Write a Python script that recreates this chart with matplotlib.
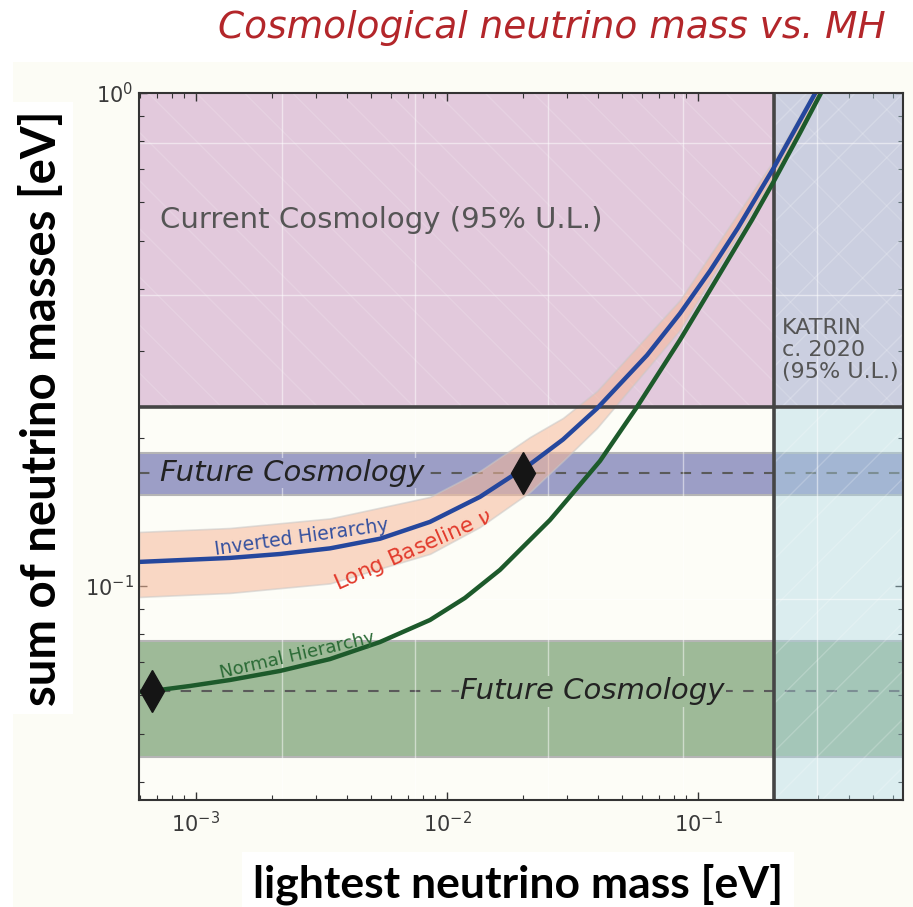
import numpy as np
import matplotlib
matplotlib.use("Agg")
import matplotlib.pyplot as plt
from matplotlib.patches import Rectangle

# lightest neutrino mass [eV] vs sum of masses [eV]
ih_mass = [5.93e-4, 1.366e-3, 2.161e-3, 3.42e-3, 5.41e-3, 8.56e-3, 0.01353, 0.02141, 0.02899,
           0.0396, 0.06264, 0.08479, 0.1116, 0.1443, 0.1989, 0.2924, 0.3679]
ih_sum = [0.1119, 0.1140, 0.1161, 0.1192, 0.1247, 0.1349, 0.1516, 0.1765, 0.1982,
          0.2291, 0.2938, 0.3570, 0.4353, 0.5325, 0.7003, 0.9968, 1.2415]

nh_mass = [5.93e-4, 6.68e-4, 9.46e-4, 1.366e-3, 2.161e-3, 3.42e-3, 5.41e-3, 8.56e-3, 0.01179,
           0.01626, 0.02573, 0.03177, 0.04071, 0.05715, 0.08479, 0.1168, 0.1641, 0.1989,
           0.2549, 0.3062, 0.3852]
nh_sum = [0.0610, 0.06124, 0.06268, 0.06446, 0.06724, 0.07108, 0.07697, 0.08531, 0.09455,
          0.1078, 0.1361, 0.1544, 0.1793, 0.2307, 0.3155, 0.4137, 0.5525, 0.6570,
          0.8296, 0.9906, 1.240]

# long baseline band around the inverted hierarchy
lbl_mass = [5.93e-4, 1.366e-3, 3.42e-3, 8.56e-3, 0.01353, 0.02141, 0.02899, 0.0396,
            0.08479, 0.2007, 0.298, 0.3679]
lbl_upper = [0.1287, 0.1311, 0.1371, 0.1516, 0.1711, 0.2005, 0.2192, 0.2486,
             0.3803, 0.7313, 1.033, 1.275]
lbl_lower = [0.0950, 0.0968, 0.1012, 0.1162, 0.1317, 0.1551, 0.1793, 0.2092,
             0.3307, 0.6787, 0.9679, 1.205]

current_cosmo_limit = 0.231
katrin_limit = 0.2
future_centers = [0.1695, 0.0612]
future_halfwidth = 0.0163
diamond_mass = [0.0201, 6.68e-4]
diamond_sum = [0.1695, 0.0612]

x_range = (5.93e-4, 0.656)
y_range = (0.0368, 1.0)

# faint white grid of the original image (not on the ticks)
grid_x = [2.20e-3, 7.46e-3, 0.0252, 0.0871, 0.298]
grid_y = [0.792, 0.389, 0.0941]

fig = plt.figure(figsize=(9.13, 9.07), dpi=100, facecolor="white")
# cream background of the pasted plot
fig.patches.append(Rectangle((13 / 913, 0), 1, 1 - 62 / 907, transform=fig.transFigure,
                             facecolor="#fcfcf5", edgecolor="none", zorder=-10))

ax = fig.add_axes([139 / 913, 1 - 800 / 907, (903 - 139) / 913, (800 - 93) / 907])
ax.set_facecolor("#fdfdf7")
ax.set_xscale("log")
ax.set_yscale("log")
ax.set_xlim(*x_range)
ax.set_ylim(*y_range)

pink = ax.axhspan(current_cosmo_limit, 10, color="#e2c9dc", zorder=1, lw=0)
for c, col in zip(future_centers, ["#9c9ec6", "#9eba98"]):
    ax.axhspan(c - future_halfwidth, c + future_halfwidth, facecolor=col,
               edgecolor="#b5b5b5", lw=1.5, zorder=1.2)
    ax.axhline(c, color="#5a5a5a", lw=1.5, ls=(0, (5, 5)), zorder=1.5)
katrin = ax.axvspan(katrin_limit, 10, color="#add8e6", alpha=0.42, zorder=2, lw=0)

for gx in grid_x:
    ax.axvline(gx, color="white", lw=1, alpha=0.5, zorder=2.1)
for gy in grid_y:
    ax.axhline(gy, color="white", lw=1, alpha=0.5, zorder=2.1)

# faint diagonal hatching in the two excluded regions
pos = ax.get_position()
r = (pos.height * 9.07) / (pos.width * 9.13)
for o in np.arange(-1.5, 1.6, 0.063):
    ln, = ax.plot([o, o + r], [1, 0], transform=ax.transAxes, color="white",
                  lw=1, alpha=0.15, zorder=2.2)
    ln.set_clip_path(pink)
    ln2, = ax.plot([o, o + r], [0, 1], transform=ax.transAxes, color="white",
                   lw=1, alpha=0.2, zorder=2.2)
    ln2.set_clip_path(katrin)

ax.fill_between(lbl_mass, lbl_lower, lbl_upper, facecolor="#f7b99a", alpha=0.55,
                edgecolor="#c8c8c8", lw=1.2, zorder=3)

ax.axhline(current_cosmo_limit, color="#454545", lw=2.6, zorder=4)
ax.axvline(katrin_limit, color="#454545", lw=2.6, zorder=4)

ax.plot(nh_mass, nh_sum, color="#1d5a2b", lw=3.2, zorder=5, solid_capstyle="butt")
ax.plot(ih_mass, ih_sum, color="#25479d", lw=3.2, zorder=5, solid_capstyle="butt")
ax.plot(diamond_mass, diamond_sum, ls="none", marker="d", ms=21, color="#151515", zorder=6)

ax.text(7.19e-4, 0.5525, "Current Cosmology (95% U.L.)", fontsize=21, color="#555555",
        va="center", ha="left", zorder=7)
ax.text(0.216, 0.301, "KATRIN\nc. 2020\n(95% U.L.)", fontsize=16, color="#555555",
        va="center", ha="left", zorder=7, linespacing=1.15)
ax.text(7.19e-4, future_centers[0], "Future Cosmology", fontsize=21, style="italic",
        color="#222222", va="center", ha="left", zorder=7,
        bbox=dict(facecolor="#9c9ec6", edgecolor="none", pad=1))
ax.text(0.01127, future_centers[1], "Future Cosmology", fontsize=21, style="italic",
        color="#222222", va="center", ha="left", zorder=7,
        bbox=dict(facecolor="#9eba98", edgecolor="none", pad=1))
ax.text(2.64e-3, 0.1252, "Inverted Hierarchy", fontsize=13.5, color="#34509f",
        rotation=8, va="center", ha="center", zorder=7)
ax.text(7.32e-3, 0.118, "Long Baseline $\\nu$", fontsize=15.5, color="#e23a2c",
        rotation=24, va="center", ha="center", zorder=7)
ax.text(2.52e-3, 0.0724, "Normal Hierarchy", fontsize=13, color="#2a6a35",
        rotation=13, va="center", ha="center", zorder=7)

ax.tick_params(which="both", direction="in", top=True, right=True, colors="#333333",
               labelcolor="#3a3a3a", labelsize=15)
ax.tick_params(which="major", length=6, width=1)
ax.tick_params(axis="x", which="major", pad=8)
ax.tick_params(axis="y", which="major", pad=4)
ax.tick_params(which="minor", length=3.5, width=0.8)
ax.yaxis.set_minor_formatter(plt.NullFormatter())
ax.xaxis.set_minor_formatter(plt.NullFormatter())
for sp in ax.spines.values():
    sp.set_color("#333333")
    sp.set_linewidth(1.5)
    sp.set_zorder(8)

fig.text(886 / 913, 1 - 28 / 907, "Cosmological neutrino mass vs. MH", fontsize=27,
         style="italic", color="#b3262a", ha="right", va="center")
fig.text(42 / 913, 1 - 408 / 907, "sum of neutrino masses [eV]", fontsize=34,
         fontweight="bold", family="Lato", rotation=90, ha="center", va="center",
         bbox=dict(facecolor="white", edgecolor="none", pad=6))
fig.text(518 / 913, 1 - 884 / 907, "lightest neutrino mass [eV]", fontsize=32,
         fontweight="bold", family="Lato", ha="center", va="center",
         bbox=dict(facecolor="white", edgecolor="none", pad=8))

fig.savefig("out.png", dpi=100, facecolor=fig.get_facecolor())
